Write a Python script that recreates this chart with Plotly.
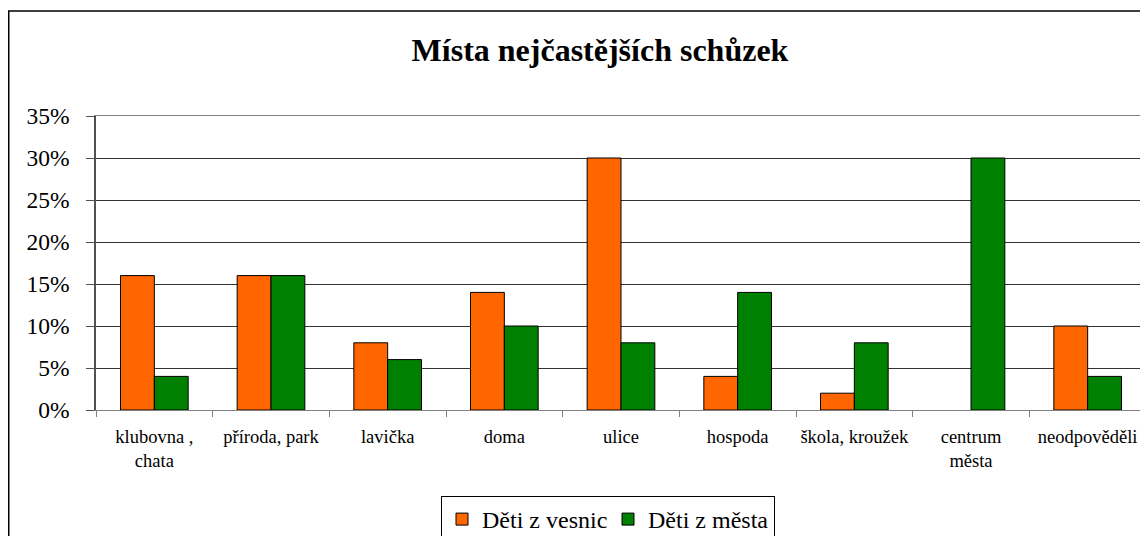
import plotly.graph_objects as go

categories = ["klubovna ,<br>chata", "příroda, park", "lavička", "doma", "ulice",
              "hospoda", "škola, kroužek", "centrum<br>města", "neodpověděli"]
vesnice = [16, 16, 8, 14, 30, 4, 2, 0, 10]
mesto = [4, 16, 6, 10, 8, 14, 8, 30, 4]
series_names = ["Děti z vesnic", "Děti z města"]
y_ticks = [0, 5, 10, 15, 20, 25, 30, 35]
y_tick_labels = [f"{v}%" for v in y_ticks]

# page body has an 8px margin, so the figure is drawn 8px smaller and offset
OFF = 8
W, H = 1148 - OFF, 536 - OFF
L, R, T, B = 96 - OFF, 2, 116 - OFF, 536 - 410
pw, ph = W - L - R, H - T - B

def px_x(p):
    return (p - OFF - L) / pw

def px_y(p):
    return (H - B - (p - OFF)) / ph

serif = "Liberation Serif, Times New Roman, serif"

def outline(vals):
    return [0 if v == 0 else 1 for v in vals]

fig = go.Figure()
fig.add_trace(go.Bar(x=categories, y=vesnice, name=series_names[0],
                     marker=dict(color="#FF6600", line=dict(color="#000000", width=outline(vesnice)))))
fig.add_trace(go.Bar(x=categories, y=mesto, name=series_names[1],
                     marker=dict(color="#008000", line=dict(color="#000000", width=outline(mesto)))))

fig.update_layout(
    width=W, height=H,
    margin=dict(l=L, r=R, t=T, b=B, autoexpand=False),
    paper_bgcolor="white", plot_bgcolor="white",
    barmode="group", bargap=0.42, bargroupgap=0,
    font=dict(family=serif, color="#000000"),
    title=dict(text="<b>Místa nejčastějších schůzek</b>", x=(600 - OFF) / W, xanchor="center",
               y=1 - (50 - OFF) / H, yanchor="middle", font=dict(size=32, family=serif)),
    legend=dict(orientation="h", x=px_x(441), xanchor="left", y=px_y(496), yanchor="top",
                bordercolor="#000000", borderwidth=1, font=dict(size=24, family=serif),
                itemwidth=30, tracegroupgap=0, entrywidth=121),
    showlegend=True,
)
fig.update_xaxes(
    type="category", showline=True, linecolor="#808080", linewidth=1, mirror=True,
    ticks="outside", tickson="boundaries", ticklen=6, tickcolor="#808080",
    tickfont=dict(size=18.5, family=serif), showgrid=False, ticklabelstandoff=10,
    tickangle=0,
)
fig.update_yaxes(
    range=[0, 35], tickvals=y_ticks, ticktext=y_tick_labels,
    showline=True, linecolor="#505050", linewidth=1.5, mirror=False,
    ticks="outside", ticklen=8, tickcolor="#505050",
    tickfont=dict(size=23.5, family=serif), showgrid=True, gridcolor="#333333", gridwidth=1,
    zeroline=False, ticklabelstandoff=12,
)
# light grey right edge of the plot area
fig.add_shape(type="line", xref="paper", yref="paper", x0=1, x1=1, y0=0, y1=1,
              line=dict(color="#A0A0A0", width=1.5))
fig.add_shape(type="rect", xref="paper", yref="paper",
              x0=px_x(8.75), x1=px_x(1170), y0=px_y(570), y1=px_y(11),
              line=dict(color="#000000", width=1.5), layer="below")

fig.write_html("out.html")
